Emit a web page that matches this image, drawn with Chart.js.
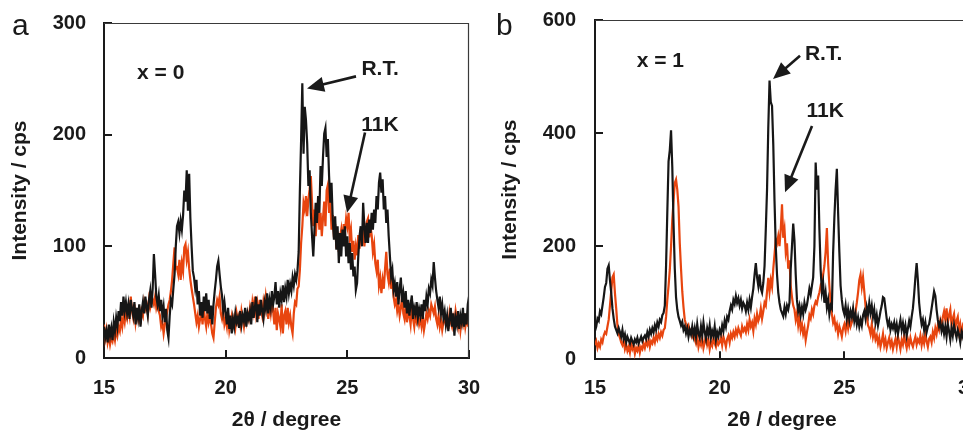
<!DOCTYPE html>
<html><head><meta charset="utf-8">
<script src="https://cdn.jsdelivr.net/npm/chart.js@4.4.1/dist/chart.umd.min.js"></script>
<style>
html,body{margin:0;padding:0;background:#fff;overflow:hidden;width:963px;height:431px;position:relative;}
#wa{position:absolute;left:0;top:0;width:480px;height:431px;}
#wb{position:absolute;left:491px;top:0;width:489px;height:431px;}
canvas{display:block;}
</style></head><body>
<div id="wa"><canvas id="ca" width="480" height="431"></canvas></div>
<div id="wb"><canvas id="cb" width="489" height="431"></canvas></div>
<script>
// ---- sampling grid of the diffractograms (2θ, degrees) ----
const angleStart = 15;
const angleStep = 0.05;
const xTickValues = [15, 20, 25, 30];
const yTicksA = [0, 100, 200, 300];
const yTicksB = [0, 200, 400, 600];

// ---- panel a (x = 0), one row per degree ----
const aRoomTemp = [
  28,18,24,14,30,20,27,16,32,24,36,28,42,33,50,38,55,42,50,40,
  48,35,52,44,38,50,30,45,36,48,28,42,50,40,55,46,38,52,60,45,
  62,93,75,55,48,56,42,52,38,46,32,44,25,18,38,52,48,62,75,100,
  118,122,112,123,115,128,150,140,168,132,165,125,100,78,72,62,70,48,60,38,
  50,36,55,42,58,40,52,35,47,30,48,60,70,82,87,75,64,56,42,50,
  40,30,45,26,38,22,35,28,40,32,36,27,42,30,38,33,45,28,40,35,
  42,30,50,36,45,55,32,48,38,52,42,35,50,44,58,40,52,45,60,48,
  55,68,48,60,45,58,52,65,50,62,55,70,58,66,60,72,65,75,70,78,
  95,150,195,246,183,225,213,192,154,168,130,109,91,115,139,121,145,130,172,154,
  180,201,206,180,196,163,139,157,124,106,127,97,118,85,112,91,115,100,118,91,
  109,85,103,79,94,73,82,61,67,91,109,118,100,139,118,103,121,103,124,112,
  130,115,133,121,145,133,157,166,148,160,133,145,121,133,109,91,73,79,61,67,
  55,68,48,62,72,50,58,45,60,40,52,38,48,56,35,45,40,50,36,44,
  38,48,35,52,42,55,48,62,58,70,65,86,72,60,52,45,55,40,48,36,
  42,30,38,24,35,45,28,40,20,36,30,42,26,38,32,45,28,40,30,48,55
];
const a11K = [
  30,18,25,14,20,12,18,15,22,16,25,20,28,24,35,28,38,32,42,36,
  45,38,55,42,36,48,32,40,35,46,30,42,38,50,44,48,40,52,45,50,
  52,48,55,45,50,42,38,28,32,22,30,35,42,48,52,60,70,85,99,80,
  81,75,88,70,85,78,99,102,88,95,80,70,62,55,48,40,32,38,28,35,
  42,30,45,35,28,40,32,38,30,22,18,32,45,52,48,55,40,35,42,30,
  35,28,40,25,32,38,30,36,28,40,33,38,30,42,35,28,38,32,40,35,
  45,38,50,42,55,40,48,35,52,44,38,50,42,55,46,35,48,40,52,42,
  30,45,25,40,35,28,48,22,38,42,30,45,32,38,28,22,40,50,48,62,
  64,79,103,118,139,133,145,127,142,151,163,139,118,133,109,127,139,115,130,109,
  125,140,118,150,155,130,142,115,128,108,120,98,112,95,108,115,102,120,112,125,
  118,130,108,115,95,105,88,100,92,110,98,115,105,118,100,112,122,125,108,118,
  110,95,102,85,78,88,65,72,58,70,62,80,95,75,68,80,62,70,55,48,
  52,42,48,38,45,55,40,35,48,32,42,38,30,45,35,28,40,33,38,30,
  35,28,38,25,32,40,35,42,38,48,44,40,46,35,30,38,28,34,25,32,
  38,30,35,26,40,32,28,36,30,42,35,28,38,25,34,30,40,28,35,30,32
];

// ---- panel b (x = 1) ----
const bRoomTemp = [
  50,58,72,68,85,80,95,110,128,135,160,166,140,118,90,72,58,52,46,55,
  48,40,52,36,44,30,40,34,28,38,32,26,35,30,38,28,34,40,32,38,
  42,36,48,40,52,45,55,48,60,52,65,58,70,66,78,82,95,165,260,350,
  370,405,340,240,160,110,88,75,68,60,66,52,58,46,55,40,52,44,58,42,
  55,40,62,45,38,58,42,65,48,36,55,44,60,38,50,42,58,35,48,40,
  52,45,60,50,68,58,75,70,85,95,88,105,98,112,100,108,95,105,90,100,
  95,85,100,88,105,92,110,125,150,170,145,130,150,125,118,135,165,230,300,410,
  493,455,448,380,280,200,150,118,100,88,82,76,92,80,95,88,100,160,200,240,
  210,150,105,85,95,78,92,80,100,88,96,110,125,115,130,145,200,348,300,325,
  230,158,120,135,100,118,92,105,80,95,90,188,250,300,337,260,190,130,105,88,
  80,95,72,88,70,85,75,90,68,80,62,74,58,70,60,78,85,72,92,80,
  100,82,95,75,88,65,78,60,72,85,95,110,108,90,72,60,68,52,62,55,
  65,50,62,45,58,70,52,64,48,60,42,55,68,58,75,90,115,145,170,140,
  100,78,62,70,52,65,48,58,62,75,90,105,120,112,88,70,58,66,50,60,
  45,58,40,62,50,35,55,42,60,48,38,52,44,30,48,40,55,38,46,42,50
];
const b11K = [
  25,32,20,28,22,35,30,42,48,45,58,70,95,120,145,150,117,90,60,45,
  38,30,25,34,18,26,15,22,12,28,18,24,10,20,15,25,12,22,18,28,
  20,30,25,35,22,32,28,38,30,42,35,45,38,48,42,52,55,75,105,130,
  158,200,247,280,312,318,300,270,205,160,120,92,70,62,55,60,48,52,40,45,
  35,28,40,22,32,25,38,20,30,42,26,35,18,30,24,38,28,22,34,26,
  30,38,25,40,32,22,36,42,30,45,38,48,40,52,44,55,48,42,58,50,
  55,48,62,52,70,58,65,50,72,62,80,68,75,90,72,85,100,95,120,144,
  120,140,128,160,185,212,205,218,200,230,274,215,230,190,205,160,175,130,110,95,
  88,70,82,60,75,52,62,45,55,34,48,60,78,72,88,80,95,102,98,110,
  118,130,125,150,165,190,232,170,130,100,80,65,72,55,62,45,58,50,40,55,
  62,50,68,55,72,58,65,75,70,85,100,118,140,150,128,145,120,95,78,60,
  55,45,62,40,50,35,42,28,38,22,32,45,25,35,20,30,38,24,32,18,
  28,36,22,40,30,18,34,26,42,30,20,35,25,38,28,22,32,40,26,35,
  30,42,25,38,28,45,32,22,36,40,30,48,38,55,45,60,52,68,58,75,
  85,70,90,65,78,88,60,72,80,55,68,75,50,62,45,58,50,40,55,45,50
];

// ---- text annotations (in data units) ----
const notesA = {
  letter: 'a', letterX: 12, letterY: 35,
  labels: [
    { text: 'x = 0', x: 16.36, y: 255.3 },
    { text: 'R.T.', x: 25.58, y: 258.5 },
    { text: '11K', x: 25.57, y: 208.2 }
  ],
  arrows: [
    { x1: 25.357, y1: 252.2, x2: 23.343, y2: 241.4 },
    { x1: 25.727, y1: 201.9, x2: 24.988, y2: 130.0 }
  ]
};
const notesB = {
  letter: 'b', letterX: 5, letterY: 35,
  labels: [
    { text: 'x = 1', x: 16.67, y: 526.5 },
    { text: 'R.T.', x: 23.42, y: 539.9 },
    { text: '11K', x: 23.48, y: 439.4 }
  ],
  arrows: [
    { x1: 23.223, y1: 536.7, x2: 22.140, y2: 495.8 },
    { x1: 23.704, y1: 412.4, x2: 22.621, y2: 295.2 }
  ]
};

const FONT = "'Liberation Sans', Arial, Helvetica, sans-serif";
const INK = '#1a1a1a';
const BLACK = '#161616';
const ORANGE = '#e8450f';

function buildPoints(values) {
  return values.map((v, i) => ({ x: +(angleStart + i * angleStep).toFixed(2), y: v }));
}

function drawArrow(ctx, x1, y1, x2, y2) {
  const ang = Math.atan2(y2 - y1, x2 - x1);
  const headLen = 17, halfW = 7.5;
  const bx = x2 - headLen * Math.cos(ang), by = y2 - headLen * Math.sin(ang);
  ctx.strokeStyle = INK; ctx.fillStyle = INK; ctx.lineWidth = 2.6;
  ctx.beginPath(); ctx.moveTo(x1, y1); ctx.lineTo(bx + 2 * Math.cos(ang), by + 2 * Math.sin(ang)); ctx.stroke();
  ctx.beginPath();
  ctx.moveTo(x2, y2);
  ctx.lineTo(bx + halfW * Math.sin(ang), by - halfW * Math.cos(ang));
  ctx.lineTo(bx - halfW * Math.sin(ang), by + halfW * Math.cos(ang));
  ctx.closePath(); ctx.fill();
}

function notesPlugin(notes) {
  return {
    id: 'panelNotes',
    afterDraw(chart) {
      const { ctx, chartArea: ca, scales: { x, y } } = chart;
      ctx.save();
      ctx.strokeStyle = '#3a3a3a'; ctx.lineWidth = 1.2;
      ctx.beginPath();
      ctx.moveTo(ca.left, ca.top + 0.5);
      ctx.lineTo(ca.right - 0.5, ca.top + 0.5);
      ctx.lineTo(ca.right - 0.5, ca.bottom);
      ctx.stroke();
      ctx.fillStyle = INK;
      ctx.textAlign = 'left';
      ctx.textBaseline = 'alphabetic';
      ctx.font = '30px ' + FONT;
      ctx.fillText(notes.letter, notes.letterX, notes.letterY);
      ctx.font = 'bold 21px ' + FONT;
      ctx.textBaseline = 'middle';
      notes.labels.forEach(l => ctx.fillText(l.text, x.getPixelForValue(l.x), y.getPixelForValue(l.y)));
      notes.arrows.forEach(a => drawArrow(ctx,
        x.getPixelForValue(a.x1), y.getPixelForValue(a.y1),
        x.getPixelForValue(a.x2), y.getPixelForValue(a.y2)));
      ctx.restore();
    }
  };
}

function clearAutoPad(s) {
  s.paddingLeft = 0; s.paddingRight = 0; s.paddingTop = 0; s.paddingBottom = 0;
}

function makePanel(id, p) {
  return new Chart(document.getElementById(id), {
    type: 'line',
    data: {
      datasets: [
        { label: 'R.T.', data: buildPoints(p.rt), borderColor: BLACK, borderWidth: 2.2, pointRadius: 0, tension: 0, order: 0 },
        { label: '11K', data: buildPoints(p.k11), borderColor: ORANGE, borderWidth: 2.2, pointRadius: 0, tension: 0, order: 1 }
      ]
    },
    options: {
      responsive: false,
      animation: false,
      events: [],
      layout: { autoPadding: false, padding: { left: 0, right: 11, top: p.top, bottom: 0 } },
      plugins: { legend: { display: false }, tooltip: { enabled: false } },
      scales: {
        x: {
          type: 'linear', min: 15, max: 30,
          afterBuildTicks: s => { s.ticks = xTickValues.map(v => ({ value: v })); },
          afterFit: s => { s.height = p.xAxisHeight; clearAutoPad(s); },
          ticks: { padding: p.xTickPad, color: INK, font: { family: FONT, size: 20, weight: 'bold' } },
          grid: { drawOnChartArea: false, drawTicks: true, tickLength: -8, lineWidth: 2, color: INK, tickColor: INK, tickWidth: 2 },
          border: { display: true, color: INK, width: 2 },
          title: { display: true, text: '2θ / degree', color: INK, font: { family: FONT, size: 21, weight: 'bold', lineHeight: 1 }, padding: { top: 0, bottom: 0 } }
        },
        y: {
          type: 'linear', min: 0, max: p.yMax,
          afterBuildTicks: s => { s.ticks = p.yTicks.map(v => ({ value: v })); },
          afterFit: s => { s.width = 104; clearAutoPad(s); },
          ticks: { padding: p.yTickPad, color: INK, font: { family: FONT, size: 20, weight: 'bold' } },
          grid: { drawOnChartArea: false, drawTicks: true, tickLength: -8, lineWidth: 2, color: INK, tickColor: INK, tickWidth: 2 },
          border: { display: true, color: INK, width: 2 },
          title: { display: true, text: 'Intensity / cps', color: INK, font: { family: FONT, size: 21, weight: 'bold', lineHeight: 1 }, padding: { top: p.yTitlePad, bottom: 0 } }
        }
      }
    },
    plugins: [notesPlugin(p.notes)]
  });
}

makePanel('ca', { rt: aRoomTemp, k11: a11K, yMax: 300, yTicks: yTicksA, top: 23, xAxisHeight: 73, xTickPad: 26, yTickPad: 26, yTitlePad: 10, notes: notesA });
makePanel('cb', { rt: bRoomTemp, k11: b11K, yMax: 600, yTicks: yTicksB, top: 20, xAxisHeight: 71.7, xTickPad: 25, yTickPad: 27, yTitlePad: 9, notes: notesB });
</script>
</body></html>
